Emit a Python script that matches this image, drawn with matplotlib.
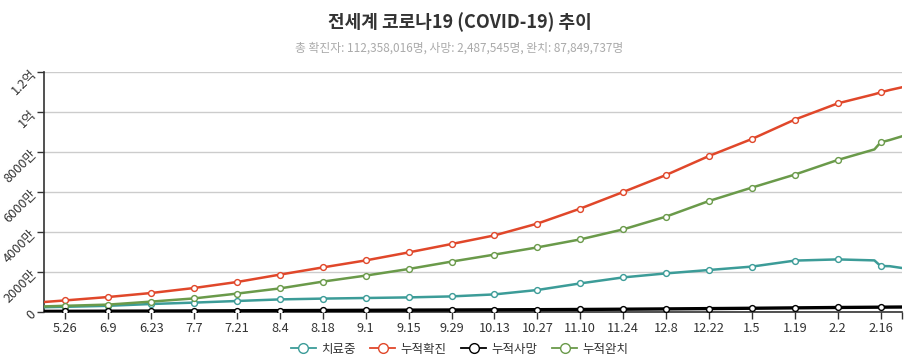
import datetime as dt
import matplotlib
matplotlib.use("Agg")
import matplotlib.pyplot as plt
from matplotlib.lines import Line2D
from matplotlib.ticker import FixedLocator

plt.rcParams['font.family'] = ['Noto Sans CJK KR', 'DejaVu Sans']

# ---- data (values in millions of people) ----
dates = ["2020-05-19", "2020-05-26", "2020-06-09", "2020-06-23", "2020-07-07",
         "2020-07-21", "2020-08-04", "2020-08-18", "2020-09-01", "2020-09-15",
         "2020-09-29", "2020-10-13", "2020-10-27", "2020-11-10", "2020-11-24",
         "2020-12-08", "2020-12-22", "2021-01-05", "2021-01-19", "2021-02-02",
         "2021-02-14", "2021-02-16", "2021-02-19", "2021-02-23"]
confirmed = [5.0, 5.8, 7.5, 9.5, 12.0, 15.0, 18.7, 22.3, 25.8, 29.8, 34.0, 38.3,
             44.2, 51.7, 60.0, 68.5, 78.0, 86.5, 96.2, 104.3, 108.9, 109.8,
             111.0, 112.36]
recovered = [2.8, 3.1, 3.7, 5.2, 6.8, 9.2, 11.8, 15.2, 18.2, 21.5, 25.2, 28.7,
             32.3, 36.3, 41.3, 47.7, 55.5, 62.2, 68.7, 76.0, 81.3, 84.8,
             86.0, 87.85]
active = [2.4, 2.6, 3.1, 4.0, 4.7, 5.5, 6.3, 6.7, 7.0, 7.3, 7.8, 8.8, 11.0,
          14.3, 17.3, 19.3, 21.0, 22.7, 25.7, 26.3, 25.8, 23.0, 22.9, 22.0]
deaths = [0.32, 0.35, 0.41, 0.48, 0.55, 0.62, 0.70, 0.78, 0.86, 0.94, 1.01,
          1.09, 1.17, 1.27, 1.40, 1.55, 1.71, 1.87, 2.07, 2.26, 2.39, 2.41,
          2.45, 2.49]
tick_labels = ["5.26", "6.9", "6.23", "7.7", "7.21", "8.4", "8.18", "9.1", "9.15",
               "9.29", "10.13", "10.27", "11.10", "11.24", "12.8", "12.22", "1.5",
               "1.19", "2.2", "2.16"]
y_ticks = [0, 20, 40, 60, 80, 100, 120]
y_labels = ["0", "2000만", "4000만", "6000만", "8000만", "1억", "1.2억"]
series_names = ["치료중", "누적확진", "누적사망", "누적완치"]
series_colors = ["#3c9c98", "#e0472a", "#000000", "#6a9a4a"]

title = "전세계 코로나19 (COVID-19) 추이"
subtitle = "총 확진자: 112,358,016명, 사망: 2,487,545명, 완치: 87,849,737명"

# ---- positions ----
start = dt.date.fromisoformat(dates[0])
xs = [(dt.date.fromisoformat(d) - start).days for d in dates]
end_x = xs[-1]
tick_x = []
for lab in tick_labels:
    m, d = (int(v) for v in lab.split("."))
    yr = 2020 if m >= 5 else 2021
    tick_x.append((dt.date(yr, m, d) - start).days)
mark_idx = [i for i, x in enumerate(xs) if x in tick_x]

W, H = 919, 364
fig = plt.figure(figsize=(W / 100, H / 100), dpi=100)
ax = fig.add_axes([44 / W, 52 / H, (902 - 44) / W, 240 / H])

series = [active, confirmed, deaths, recovered]
widths = [1.8, 1.8, 2.4, 1.8]
zorders = [3, 3, 4, 3]
for vals, col, lw, z in zip(series, series_colors, widths, zorders):
    ax.plot(xs, vals, color=col, lw=lw, zorder=z, solid_joinstyle='round',
            marker='o', markevery=mark_idx, markersize=4.2,
            markerfacecolor='white', markeredgecolor=col, markeredgewidth=1.0)

ax.set_xlim(0, end_x)
ax.set_ylim(0, 120)
ax.set_yticks(y_ticks)
ax.set_yticklabels(y_labels, rotation=45, ha='right', va='center',
                   rotation_mode='anchor')
ax.xaxis.set_major_locator(FixedLocator(tick_x))
ax.set_xticklabels(tick_labels)
ax.xaxis.set_minor_locator(FixedLocator([end_x]))
ax.tick_params(axis='x', which='both', length=5, width=1, color='#333333',
               labelsize=9.2, labelcolor='#333333', pad=2)
ax.tick_params(axis='y', length=5, width=1, color='#333333', labelsize=9.2,
               labelcolor='#333333', pad=2)
ax.grid(axis='y', color='#cccccc', lw=1)
ax.set_axisbelow(True)
for s in ['top', 'right']:
    ax.spines[s].set_visible(False)
for s in ['left', 'bottom']:
    ax.spines[s].set_color('#333333')
    ax.spines[s].set_linewidth(1.2)

fig.text(0.5, 1 - 22 / H, title, ha='center', va='center', fontsize=13,
         fontweight='bold', color='#333333')
fig.text(0.5, 1 - 48 / H, subtitle, ha='center', va='center', fontsize=8.5,
         color='#aaaaaa')

handles = [Line2D([], [], color=c, lw=1.3, marker='o', markersize=7,
                  markerfacecolor='white', markeredgecolor=c, markeredgewidth=1.0)
           for c in series_colors]
fig.legend(handles, series_names, loc='center', bbox_to_anchor=(0.5, 1 - 349 / H),
           ncol=4, frameon=False, fontsize=9, handlelength=2.0, handletextpad=0.4,
           columnspacing=1.2, labelcolor='#333333')

fig.savefig("out.png", dpi=100)
